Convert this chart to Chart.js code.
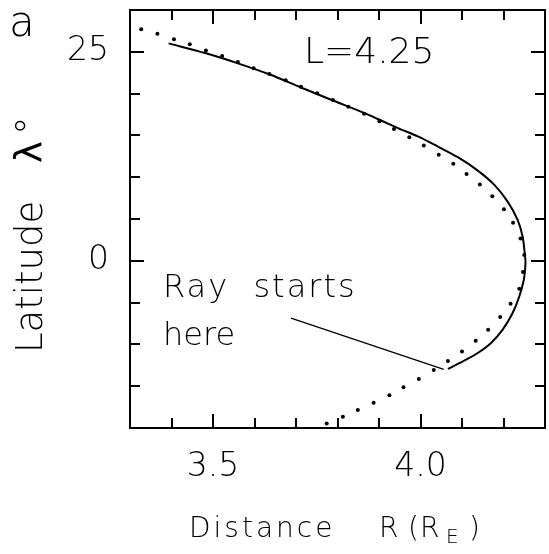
<!DOCTYPE html>
<html>
<head>
<meta charset="utf-8">
<script src="https://cdn.jsdelivr.net/npm/chart.js@4/dist/chart.umd.min.js"></script>
<style>
  html, body { margin: 0; padding: 0; background: #fff; }
  #wrap { width: 549px; height: 554px; }
</style>
</head>
<body>
<div id="wrap"><canvas id="rayChart" width="549" height="554"></canvas></div>
<script>
// dipole field line L=4.25 (dots)
const fieldR = [3.327, 3.366, 3.406, 3.444, 3.483, 3.522, 3.560, 3.598, 3.636, 3.675,
  3.712, 3.751, 3.789, 3.826, 3.864, 3.901, 3.936, 3.973, 4.008, 4.044,
  4.079, 4.111, 4.143, 4.173, 4.201, 4.223, 4.241, 4.250, 4.247, 4.238,
  4.217, 4.192, 4.163, 4.133, 4.100, 4.066, 4.032, 3.996, 3.959, 3.925,
  3.887, 3.849, 3.813, 3.774];
const fieldLat = [27.7, 27.16, 26.49, 25.89, 25.17, 24.49, 23.78, 23.02, 22.34, 21.59,
  20.82, 20.04, 19.24, 18.44, 17.60, 16.69, 15.77, 14.78, 13.78, 12.70,
  11.62, 10.39, 9.12, 7.73, 6.18, 4.54, 2.66, 0.68, -1.35, -3.35,
  -5.14, -6.73, -8.24, -9.56, -10.84, -11.98, -13.06, -14.13, -15.14, -16.09,
  -16.97, -17.84, -18.64, -19.47];

// ray path (solid)
const rayR = [3.393, 3.483, 3.560, 3.637, 3.712, 3.789, 3.864, 3.899, 3.947, 3.995,
  4.042, 4.090, 4.138, 4.178, 4.210, 4.234, 4.246, 4.252, 4.253, 4.249,
  4.238, 4.222, 4.198, 4.170, 4.138, 4.102, 4.066];
const rayLat = [26.01, 24.82, 23.62, 22.28, 20.73, 19.18, 17.70, 16.93, 15.85, 14.85,
  13.66, 12.39, 10.79, 9.08, 7.08, 4.90, 2.90, 0.51, -0.27, -2.27,
  -4.27, -6.25, -8.24, -9.83, -11.03, -12.03, -12.94];

// pointer from the "Ray starts here" note to the ray start
const pointerR = [3.688, 4.056];
const pointerLat = [-6.85, -12.98];

const xLabels = [3.5, 4.0];
const yLabels = [25, 0];

const FONT = "'DejaVu Sans', sans-serif";

function toPoints(xs, ys) {
  return xs.map((x, i) => ({ x: x, y: ys[i] }));
}
function isLabel(list, v) {
  return list.some(l => Math.abs(l - v) < 1e-6);
}
// keep the plot box where the figure has it
function noPadding(scale) {
  scale.paddingTop = 0;
  scale.paddingBottom = 0;
  scale.paddingLeft = 0;
  scale.paddingRight = 0;
}

// frame, inward ticks and the free text of the figure
const framePlugin = {
  id: 'frame',
  afterDraw(chart) {
    const ctx = chart.ctx;
    const a = chart.chartArea;
    const xs = chart.scales.x, ys = chart.scales.y;
    ctx.save();
    ctx.strokeStyle = '#000';
    ctx.lineWidth = 2;
    ctx.strokeRect(a.left, a.top, a.right - a.left, a.bottom - a.top);

    ctx.beginPath();
    xs.ticks.forEach(t => {
      const px = Math.round(xs.getPixelForValue(t.value));
      if (px <= a.left + 2 || px >= a.right - 2) return;
      const len = isLabel(xLabels, t.value) ? 14 : 10;
      ctx.moveTo(px, a.bottom); ctx.lineTo(px, a.bottom - len);
      ctx.moveTo(px, a.top); ctx.lineTo(px, a.top + len);
    });
    ys.ticks.forEach(t => {
      const py = Math.round(ys.getPixelForValue(t.value));
      if (py <= a.top + 2 || py >= a.bottom - 2) return;
      const len = isLabel(yLabels, t.value) ? 14 : 10;
      ctx.moveTo(a.left, py); ctx.lineTo(a.left + len, py);
      ctx.moveTo(a.right, py); ctx.lineTo(a.right - len, py);
    });
    ctx.stroke();

    ctx.fillStyle = '#000';
    ctx.textBaseline = 'alphabetic';
    ctx.textAlign = 'left';

    // panel letter
    ctx.font = '200 42px ' + FONT;
    ctx.fillText('a', 9, 36);

    ctx.font = '200 36px ' + FONT;
    ctx.fillText('L=4.25', 304, 63);

    ctx.font = '200 32px ' + FONT;
    ctx.letterSpacing = '2px';
    ctx.fillText('Ray  starts', 163, 297);
    ctx.letterSpacing = '0px';
    ctx.fillText('here', 163, 345);

    // x axis title with subscript
    ctx.font = '200 28px ' + FONT;
    ctx.letterSpacing = '3px';
    ctx.fillText('Distance', 189, 537);
    ctx.letterSpacing = '0px';
    ctx.fillText('R', 379, 537);
    ctx.fillText('(', 408, 537);
    ctx.fillText('R', 420, 537);
    ctx.font = '200 20px ' + FONT;
    ctx.fillText('E', 446, 543);
    ctx.font = '200 28px ' + FONT;
    ctx.fillText(')', 469, 537);

    // y axis title, rotated
    ctx.translate(42, 353);
    ctx.rotate(-Math.PI / 2);
    ctx.font = '200 37px ' + FONT;
    ctx.fillText('Latitude', 0, 0);
    ctx.font = '37px ' + FONT;
    ctx.fillText('λ', 190, 0);
    ctx.font = '200 37px ' + FONT;
    ctx.fillText('°', 218, 0);
    ctx.restore();
  }
};

new Chart(document.getElementById('rayChart'), {
  type: 'scatter',
  data: {
    datasets: [
      {
        label: 'Field line',
        data: toPoints(fieldR, fieldLat),
        showLine: false,
        pointRadius: 2,
        pointBackgroundColor: '#000',
        pointBorderWidth: 0
      },
      {
        label: 'Ray',
        data: toPoints(rayR, rayLat),
        showLine: true,
        borderColor: '#000',
        borderWidth: 2,
        tension: 0.3,
        pointRadius: 0
      },
      {
        label: 'Pointer',
        data: toPoints(pointerR, pointerLat),
        showLine: true,
        borderColor: '#000',
        borderWidth: 1.3,
        pointRadius: 0
      }
    ]
  },
  options: {
    responsive: false,
    animation: false,
    events: [],
    layout: { padding: { left: 0, right: 2, top: 10, bottom: 0 } },
    plugins: { legend: { display: false }, tooltip: { enabled: false } },
    scales: {
      x: {
        type: 'linear',
        min: 3.3,
        max: 4.3,
        grid: { display: false, drawTicks: false },
        border: { display: false },
        afterFit(scale) { scale.height = 126; noPadding(scale); },
        ticks: {
          stepSize: 0.1,
          autoSkip: false,
          maxRotation: 0,
          padding: 20,
          color: '#000',
          font: { family: FONT, size: 33, weight: '200' },
          callback: v => isLabel(xLabels, v) ? v.toFixed(1) : ''
        }
      },
      y: {
        type: 'linear',
        min: -20,
        max: 30,
        grid: { display: false, drawTicks: false },
        border: { display: false },
        afterFit(scale) { scale.width = 130; noPadding(scale); },
        ticks: {
          stepSize: 5,
          autoSkip: false,
          padding: 21,
          color: '#000',
          font: { family: FONT, size: 33, weight: '200' },
          callback: v => isLabel(yLabels, v) ? String(v) : ''
        }
      }
    }
  },
  plugins: [framePlugin]
});
</script>
</body>
</html>
